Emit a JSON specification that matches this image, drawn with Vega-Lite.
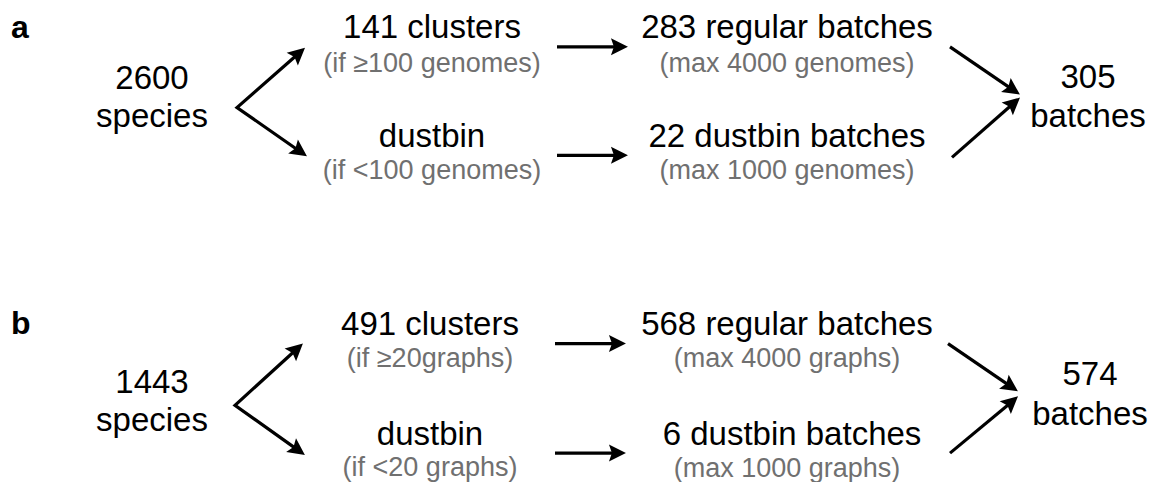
{
  "$schema": "https://vega.github.io/schema/vega-lite/v6.json",
  "width": 1152,
  "height": 482,
  "padding": 0,
  "autosize": {"type": "fit", "contains": "padding"},
  "config": {"view": {"stroke": null}, "text": {"font": "Liberation Sans"}},
  "datasets": {
    "labels": [
      {"panel": "a", "kind": "panel", "x": 11, "y": 38, "text": "a"},
      {"panel": "a", "kind": "main", "x": 152, "y": 89, "text": "2600"},
      {"panel": "a", "kind": "main", "x": 152, "y": 128, "text": "species"},
      {"panel": "a", "kind": "main", "x": 432, "y": 38, "text": "141 clusters"},
      {"panel": "a", "kind": "sub", "x": 432, "y": 72, "text": "(if ≥100 genomes)"},
      {"panel": "a", "kind": "main", "x": 432, "y": 148, "text": "dustbin"},
      {"panel": "a", "kind": "sub", "x": 432, "y": 180, "text": "(if <100 genomes)"},
      {"panel": "a", "kind": "main", "x": 787, "y": 38, "text": "283 regular batches"},
      {"panel": "a", "kind": "sub", "x": 787, "y": 72, "text": "(max 4000 genomes)"},
      {"panel": "a", "kind": "main", "x": 787, "y": 148, "text": "22 dustbin batches"},
      {"panel": "a", "kind": "sub", "x": 787, "y": 180, "text": "(max 1000 genomes)"},
      {"panel": "a", "kind": "main", "x": 1088, "y": 88, "text": "305"},
      {"panel": "a", "kind": "main", "x": 1088, "y": 128, "text": "batches"},
      {"panel": "b", "kind": "panel", "x": 11, "y": 335, "text": "b"},
      {"panel": "b", "kind": "main", "x": 152, "y": 395, "text": "1443"},
      {"panel": "b", "kind": "main", "x": 152, "y": 433, "text": "species"},
      {"panel": "b", "kind": "main", "x": 430, "y": 336, "text": "491 clusters"},
      {"panel": "b", "kind": "sub", "x": 430, "y": 369, "text": "(if ≥20graphs)"},
      {"panel": "b", "kind": "main", "x": 430, "y": 447, "text": "dustbin"},
      {"panel": "b", "kind": "sub", "x": 430, "y": 478, "text": "(if <20 graphs)"},
      {"panel": "b", "kind": "main", "x": 787, "y": 336, "text": "568 regular batches"},
      {"panel": "b", "kind": "sub", "x": 787, "y": 369, "text": "(max 4000 graphs)"},
      {"panel": "b", "kind": "main", "x": 792, "y": 447, "text": "6 dustbin batches"},
      {"panel": "b", "kind": "sub", "x": 787, "y": 479, "text": "(max 1000 graphs)"},
      {"panel": "b", "kind": "main", "x": 1090, "y": 387, "text": "574"},
      {"panel": "b", "kind": "main", "x": 1090, "y": 427, "text": "batches"}
    ],
    "paths": [
      {"id": "a-split", "seq": 1, "x": 298, "y": 54.2},
      {"id": "a-split", "seq": 2, "x": 237, "y": 108},
      {"id": "a-split", "seq": 3, "x": 299.3, "y": 151.6},
      {"id": "a-top", "seq": 1, "x": 557, "y": 47},
      {"id": "a-top", "seq": 2, "x": 618.6, "y": 47},
      {"id": "a-bottom", "seq": 1, "x": 557, "y": 156},
      {"id": "a-bottom", "seq": 2, "x": 618.6, "y": 156},
      {"id": "a-merge-top", "seq": 1, "x": 950, "y": 47},
      {"id": "a-merge-top", "seq": 2, "x": 1012.2, "y": 89.7},
      {"id": "a-merge-bottom", "seq": 1, "x": 952, "y": 158},
      {"id": "a-merge-bottom", "seq": 2, "x": 1013, "y": 104.2},
      {"id": "b-split", "seq": 1, "x": 296, "y": 351.2},
      {"id": "b-split", "seq": 2, "x": 235, "y": 407},
      {"id": "b-split", "seq": 3, "x": 297.3, "y": 451.5},
      {"id": "b-top", "seq": 1, "x": 555, "y": 345},
      {"id": "b-top", "seq": 2, "x": 616.6, "y": 345},
      {"id": "b-bottom", "seq": 1, "x": 555, "y": 455},
      {"id": "b-bottom", "seq": 2, "x": 616.6, "y": 455},
      {"id": "b-merge-top", "seq": 1, "x": 948, "y": 345},
      {"id": "b-merge-top", "seq": 2, "x": 1010.2, "y": 387.7},
      {"id": "b-merge-bottom", "seq": 1, "x": 950, "y": 455},
      {"id": "b-merge-bottom", "seq": 2, "x": 1011, "y": 404.2}
    ],
    "heads": [
      {"id": "a-split-up", "x": 298, "y": 54.2, "angle": 48.6},
      {"id": "a-split-down", "x": 299.3, "y": 151.6, "angle": 125},
      {"id": "a-top", "x": 618.6, "y": 47, "angle": 90},
      {"id": "a-bottom", "x": 618.6, "y": 156, "angle": 90},
      {"id": "a-merge-top", "x": 1012.2, "y": 89.7, "angle": 124.4},
      {"id": "a-merge-bottom", "x": 1013, "y": 104.2, "angle": 48.6},
      {"id": "b-split-up", "x": 296, "y": 351.2, "angle": 47.6},
      {"id": "b-split-down", "x": 297.3, "y": 451.5, "angle": 125.5},
      {"id": "b-top", "x": 616.6, "y": 345, "angle": 90},
      {"id": "b-bottom", "x": 616.6, "y": 455, "angle": 90},
      {"id": "b-merge-top", "x": 1010.2, "y": 387.7, "angle": 124.4},
      {"id": "b-merge-bottom", "x": 1011, "y": 404.2, "angle": 48.6}
    ]
  },
  "encoding": {
    "x": {"field": "x", "type": "quantitative", "scale": {"domain": [0, 1152], "nice": false, "zero": false}, "axis": null},
    "y": {"field": "y", "type": "quantitative", "scale": {"domain": [0, 482], "nice": false, "zero": false, "reverse": true}, "axis": null}
  },
  "layer": [
    {
      "data": {"name": "paths"},
      "mark": {"type": "line", "color": "black", "strokeWidth": 3.2, "strokeCap": "butt", "strokeJoin": "miter"},
      "encoding": {"detail": {"field": "id"}, "order": {"field": "seq", "type": "quantitative"}}
    },
    {
      "data": {"name": "heads"},
      "mark": {"type": "point", "shape": "M0,-1.1L1,0.9L0,0.55L-1,0.9Z", "filled": true, "color": "black", "opacity": 1, "size": 289, "strokeWidth": 0},
      "encoding": {"angle": {"field": "angle", "type": "quantitative", "scale": null}}
    },
    {
      "data": {"name": "labels"},
      "transform": [{"filter": "datum.kind === 'panel'"}],
      "mark": {"type": "text", "align": "left", "baseline": "alphabetic", "fontSize": 32, "fontWeight": "bold", "color": "black"},
      "encoding": {"text": {"field": "text"}}
    },
    {
      "data": {"name": "labels"},
      "transform": [{"filter": "datum.kind === 'main'"}],
      "mark": {"type": "text", "align": "center", "baseline": "alphabetic", "fontSize": 33, "color": "black"},
      "encoding": {"text": {"field": "text"}}
    },
    {
      "data": {"name": "labels"},
      "transform": [{"filter": "datum.kind === 'sub'"}],
      "mark": {"type": "text", "align": "center", "baseline": "alphabetic", "fontSize": 27, "color": "#707070"},
      "encoding": {"text": {"field": "text"}}
    }
  ]
}
